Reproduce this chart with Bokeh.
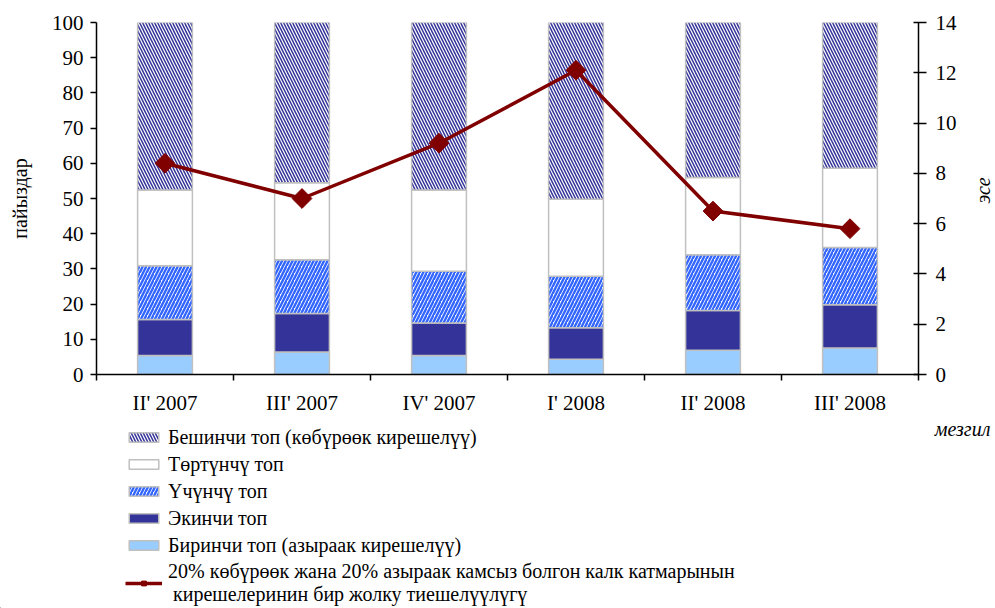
import math
from bokeh.plotting import figure
from bokeh.layouts import column, row
from bokeh.models import (Range1d, LinearAxis, FixedTicker, Legend, LegendItem,
                          Label, ColumnDataSource)
from bokeh.embed import file_html
from bokeh.resources import INLINE

# ---- data ----
categories = ["II' 2007", "III' 2007", "IV' 2007", "I' 2008", "II' 2008", "III' 2008"]
group1 = [5.4, 6.4, 5.4, 4.3, 6.9, 7.5]        # Биринчи топ
group2 = [10.2, 10.9, 9.2, 9.0, 11.3, 12.3]    # Экинчи топ
group3 = [15.3, 15.3, 14.7, 14.6, 15.8, 16.3]  # Үчүнчү топ
group4 = [21.5, 21.9, 23.1, 21.9, 22.0, 22.5]  # Төртүнчү топ
group5 = [47.6, 45.5, 47.6, 50.2, 44.0, 41.4]  # Бешинчи топ
ratio = [8.4, 7.0, 9.2, 12.1, 6.5, 5.8]        # эсе

series_labels = [
    "Биринчи топ (азыраак кирешелүү)",
    "Экинчи топ",
    "Үчүнчү топ",
    "Төртүнчү топ",
    "Бешинчи топ (көбүрөөк кирешелүү)",
]
line_label = ("20% көбүрөөк жана 20% азыраак камсыз болгон калк катмарынын\n"
              " кирешелеринин бир жолку тиешелүүлүгү")
left_ticks = list(range(0, 101, 10))
right_ticks = list(range(0, 15, 2))
left_title = "пайыздар"
right_title = "эсе"
x_title = "мезгил"

FONT = "Liberation Serif"
stackers = ["g1", "g2", "g3", "g4", "g5"]
fills = ["#99CCFF", "#333399", "white", "white", "white"]
hatches = [" ", " ", "/", " ", "\\"]
hcolors = ["#3366FF", "#3366FF", "#3366FF", "#333399", "#333399"]
hweights = [1, 1, 2.4, 1, 1.5]
hscales = [6, 6, 7, 6, 6]
RED = "#800000"

x = [i + 0.5 for i in range(len(categories))]
src = ColumnDataSource(dict(x=x, g1=group1, g2=group2, g3=group3, g4=group4,
                            g5=group5, ratio=ratio))

H_MAIN = 417
W_SIDE = 30
W_MAIN = 995 - W_SIDE
p = figure(width=W_MAIN, height=H_MAIN, x_range=Range1d(0, len(categories)),
           y_range=Range1d(0, 100), output_backend="svg", toolbar_location=None,
           min_border_left=96, min_border_right=W_MAIN - 918, min_border_top=22,
           min_border_bottom=H_MAIN - 375)
p.extra_y_ranges = {"right": Range1d(0, 14)}
p.outline_line_color = None
p.xgrid.visible = False
p.ygrid.visible = False

bars = p.vbar_stack(
    stackers, x="x", width=0.4, source=src,
    fill_color=fills, line_color="#C0C0C0", line_width=1.5,
    hatch_pattern=hatches, hatch_color=hcolors,
    hatch_weight=hweights, hatch_scale=hscales,
)

ln = p.line(x="x", y="ratio", source=src, y_range_name="right",
            line_color=RED, line_width=3.5)
mk = p.scatter(x="x", y="ratio", source=src, y_range_name="right",
               marker="square", angle=math.pi / 4, size=14,
               fill_color=RED, line_color=RED)

# x axis: labels at centres, tick marks at category boundaries
xa = p.xaxis[0]
xa.ticker = FixedTicker(ticks=x, minor_ticks=list(range(0, len(categories) + 1)))
xa.major_label_overrides = {xi: c for xi, c in zip(x, categories)}
xa.major_tick_out = 0
xa.major_tick_in = 0
xa.minor_tick_out = 6
xa.minor_tick_in = 0
xa.minor_tick_line_color = "black"
xa.minor_tick_line_width = 1.5
xa.axis_line_color = "black"
xa.axis_line_width = 1.5
xa.major_label_standoff = 10
xa.major_label_text_font = FONT
xa.major_label_text_font_size = "21px"
xa.major_label_text_color = "black"

ya = p.yaxis[0]
ya.ticker = FixedTicker(ticks=left_ticks)
ya.major_tick_out = 6
ya.major_tick_in = 0
ya.minor_tick_line_color = None
ya.major_tick_line_width = 1.5
ya.axis_line_width = 1.5
ya.major_label_standoff = 7
ya.major_label_text_font = FONT
ya.major_label_text_font_size = "21px"
ya.major_label_text_color = "black"
ya.axis_label = left_title
ya.axis_label_text_font = FONT
ya.axis_label_text_font_size = "20px"
ya.axis_label_text_font_style = "normal"
ya.axis_label_text_color = "black"
ya.axis_label_standoff = 18

ra = LinearAxis(y_range_name="right", ticker=FixedTicker(ticks=right_ticks))
ra.major_tick_out = 8
ra.major_tick_in = 5
ra.minor_tick_line_color = None
ra.major_tick_line_width = 1.5
ra.axis_line_width = 1.5
ra.major_label_standoff = 9
ra.major_label_text_font = FONT
ra.major_label_text_font_size = "21px"
ra.major_label_text_color = "black"
p.add_layout(ra, "right")

# narrow strip on the right for the rotated right-axis title
side = figure(width=W_SIDE, height=H_MAIN, x_range=Range1d(0, W_SIDE),
              y_range=Range1d(0, H_MAIN), output_backend="svg",
              toolbar_location=None, x_axis_type=None, y_axis_type=None,
              min_border=0)
side.outline_line_color = None
side.grid.visible = False
side.add_layout(Label(x=W_SIDE - 13, y=H_MAIN - 199, text=right_title,
                      angle=math.pi / 2, text_align="center",
                      text_baseline="middle", text_font=FONT,
                      text_font_size="20px", text_font_style="italic",
                      text_color="black"))

# legend strip underneath; its ranges lie far from the data, so the
# renderers that feed the legend stay off-screen
H_LEG = 608 - H_MAIN
OFF = 1000
leg = figure(width=995, height=H_LEG, x_range=Range1d(OFF, OFF + 995),
             y_range=Range1d(OFF, OFF + H_LEG), output_backend="svg",
             toolbar_location=None, x_axis_type=None, y_axis_type=None,
             min_border=0)
leg.outline_line_color = None
leg.grid.visible = False

proxies = leg.vbar_stack(
    stackers, x="x", width=0.4, source=src,
    fill_color=fills, line_color="#C0C0C0", line_width=1.5,
    hatch_pattern=hatches, hatch_color=hcolors,
    hatch_weight=hweights, hatch_scale=hscales,
)
pl = leg.line(x="x", y="ratio", source=src, line_color=RED, line_width=3.5)
ps = leg.scatter(x="x", y="ratio", source=src, marker="square",
                 angle=math.pi / 4, size=11, fill_color=RED, line_color=RED)

items = [
    LegendItem(label=series_labels[4], renderers=[proxies[4]]),
    LegendItem(label=series_labels[3], renderers=[proxies[3]]),
    LegendItem(label=series_labels[2], renderers=[proxies[2]]),
    LegendItem(label=series_labels[1], renderers=[proxies[1]]),
    LegendItem(label=series_labels[0], renderers=[proxies[0]]),
    LegendItem(label=line_label, renderers=[pl, ps]),
]
legend = Legend(items=items, location=(125, 2), border_line_color=None,
                background_fill_alpha=0, padding=0, margin=0, spacing=3,
                glyph_width=37, glyph_height=12, label_standoff=6,
                label_text_font=FONT, label_text_font_size="20px",
                label_text_color="black", label_height=24)
leg.add_layout(legend)
leg.add_layout(Label(x=OFF + 962, y=OFF + H_LEG, text=x_title,
                     text_align="center", text_baseline="top",
                     text_font=FONT, text_font_size="20px",
                     text_font_style="italic", text_color="black"))

layout = column(row(p, side), leg)
open("out.html", "w").write(file_html(layout, INLINE))
